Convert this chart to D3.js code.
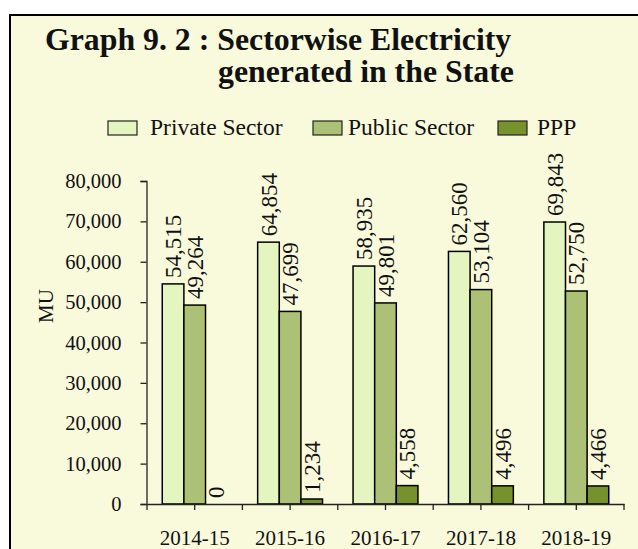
<!DOCTYPE html>
<html>
<head>
<meta charset="utf-8">
<script src="https://d3js.org/d3.v7.min.js"></script>
<style>
  body { margin: 0; background: #ffffff; }
  text { font-family: "Liberation Serif", "Times New Roman", serif; fill: #111; }
</style>
</head>
<body>
<div id="chart"></div>
<script>
// data
var years = ["2014-15", "2015-16", "2016-17", "2017-18", "2018-19"];
var seriesNames = ["Private Sector", "Public Sector", "PPP"];
var privateSector = [54515, 64854, 58935, 62560, 69843];
var publicSector = [49264, 47699, 49801, 53104, 52750];
var ppp = [0, 1234, 4558, 4496, 4466];
var yTicks = [0, 10000, 20000, 30000, 40000, 50000, 60000, 70000, 80000];

var colors = ["#e5f5c0", "#adc176", "#76922c"];

var width = 638, height = 549;

var svg = d3.select("#chart").append("svg")
    .attr("width", width)
    .attr("height", height);

// background panel with border (cut on right/bottom)
svg.append("rect")
    .attr("x", 10).attr("y", 15)
    .attr("width", 640).attr("height", 560)
    .attr("fill", "#f9f9dc")
    .attr("stroke", "#000")
    .attr("stroke-width", 2);

// title
svg.append("text")
    .attr("x", 45).attr("y", 50)
    .style("font-size", "31.8px")
    .style("font-weight", "bold")
    .text("Graph 9. 2 : Sectorwise Electricity");
svg.append("text")
    .attr("x", 218).attr("y", 82)
    .style("font-size", "31.8px")
    .style("font-weight", "bold")
    .text("generated in the State");

// legend
var legendBox = [108, 313, 498];
var legendTxt = [150, 348, 537];
seriesNames.forEach(function(name, i) {
    svg.append("rect")
        .attr("x", legendBox[i]).attr("y", 121)
        .attr("width", 29).attr("height", 14)
        .attr("fill", colors[i])
        .attr("stroke", "#222")
        .attr("stroke-width", 1.2);
    svg.append("text")
        .attr("x", legendTxt[i]).attr("y", 135)
        .style("font-size", "23.5px")
        .text(name);
});

// scales
var x0 = d3.scaleBand().domain(years).range([147, 624])
    .paddingInner(0.32).paddingOuter(0.16);
var x1 = d3.scaleBand().domain(seriesNames).range([0, x0.bandwidth()]);
var y = d3.scaleLinear().domain([0, 80000]).range([504, 181]);

var data = years.map(function(yr, i) {
    return {year: yr, values: [privateSector[i], publicSector[i], ppp[i]]};
});

// bars
var groups = svg.selectAll(".grp")
    .data(data)
    .enter().append("g")
    .attr("class", "grp")
    .attr("transform", function(d) { return "translate(" + x0(d.year) + ",0)"; });

groups.selectAll("rect")
    .data(function(d) { return d.values.map(function(v, j) { return {name: seriesNames[j], value: v, idx: j}; }); })
    .enter().append("rect")
    .filter(function(d) { return d.value > 0; })
    .attr("x", function(d) { return x1(d.name); })
    .attr("y", function(d) { return y(d.value); })
    .attr("width", x1.bandwidth())
    .attr("height", function(d) { return y(0) - y(d.value); })
    .attr("fill", function(d) { return colors[d.idx]; })
    .attr("stroke", "#000")
    .attr("stroke-width", 1.5);

// value labels, rotated
groups.selectAll(".lbl")
    .data(function(d) { return d.values.map(function(v, j) { return {name: seriesNames[j], value: v}; }); })
    .enter().append("text")
    .attr("class", "lbl")
    .attr("transform", function(d) {
        return "translate(" + (x1(d.name) + x1.bandwidth() / 2) + "," + (y(d.value) - 6) + ") rotate(-90)";
    })
    .attr("dy", "0.35em")
    .style("font-size", "23px")
    .text(function(d) { return d3.format(",")(d.value); });

// y axis
var yAxis = svg.append("g")
    .attr("transform", "translate(146.5,0)")
    .call(d3.axisLeft(y).tickValues(yTicks).tickSize(6).tickPadding(19).tickFormat(d3.format(",")));
yAxis.select(".domain").attr("stroke", "#222").attr("stroke-width", 1.3);
yAxis.selectAll(".tick line").attr("stroke", "#222").attr("stroke-width", 1.3);
yAxis.selectAll("text")
    .style("font-size", "20.5px")
    .style("font-family", "Liberation Serif, serif")
    .attr("fill", "#111");

// x axis: ticks at centers from the axis, plus category boundaries
var xAxis = svg.append("g")
    .attr("transform", "translate(0," + y(0) + ")")
    .call(d3.axisBottom(x0).tickSize(6).tickSizeOuter(0).tickPadding(0));
xAxis.select(".domain").attr("stroke", "#222").attr("stroke-width", 1.3);
xAxis.selectAll(".tick line").attr("stroke", "#222").attr("stroke-width", 1.3);
xAxis.selectAll("text")
    .attr("y", 26)
    .style("font-size", "21px")
    .style("font-family", "Liberation Serif, serif")
    .attr("fill", "#111");

var bounds = d3.range(years.length + 1).map(function(i) { return x0.range()[0] + i * x0.step(); });
xAxis.selectAll(".bnd")
    .data(bounds)
    .enter().append("line")
    .attr("class", "bnd")
    .attr("x1", function(d) { return d; }).attr("x2", function(d) { return d; })
    .attr("y1", 0).attr("y2", 6)
    .attr("stroke", "#222")
    .attr("stroke-width", 1.3);

// y axis label
svg.append("text")
    .attr("transform", "translate(46,306) rotate(-90)")
    .attr("dy", "0.35em")
    .attr("text-anchor", "middle")
    .style("font-size", "21px")
    .text("MU");
</script>
</body>
</html>
